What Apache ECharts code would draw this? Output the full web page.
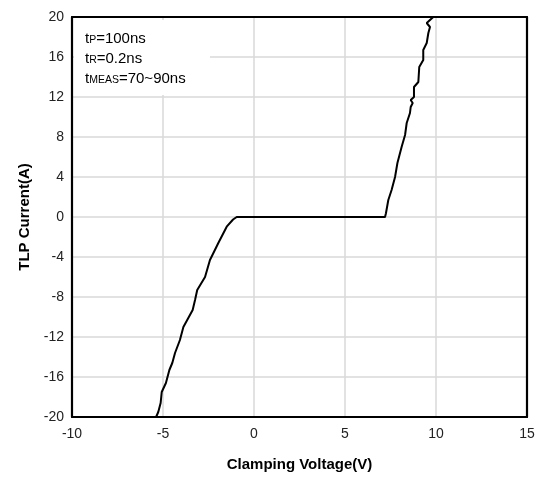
<!DOCTYPE html>
<html><head><meta charset="utf-8">
<script src="https://cdn.jsdelivr.net/npm/echarts@6/dist/echarts.min.js"></script>
<style>html,body{margin:0;padding:0;background:#fff}#c{width:544px;height:477px}</style>
</head><body><div id="c"></div>
<script>
const voltage = [-5.38,-5.26,-5.13,-5.07,-4.84,-4.65,-4.49,-4.34,-4.07,-3.88,-3.61,-3.37,-3.24,-3.12,-2.69,-2.42,-1.96,-1.50,-1.15,-0.95,-1.05,
  7.20,7.25,7.38,7.56,7.75,7.88,8.11,8.30,8.39,8.57,8.61,8.72,8.61,8.79,8.79,9.03,9.08,9.30,9.30,9.49,9.58,9.67,9.49,9.85];
const current = [-20,-19.5,-18.6,-17.5,-16.6,-15.3,-14.6,-13.6,-12.3,-11.0,-10.1,-9.3,-8.3,-7.3,-6.0,-4.3,-2.6,-0.97,-0.25,0,0,
  0,0.37,1.7,2.7,4.0,5.4,7.0,8.2,9.4,10.4,11.0,11.4,11.7,12.0,13.0,13.5,15.0,15.7,16.7,17.4,18.4,19.0,19.4,20];
const xTicks = [-10,-5,0,5,10,15];
const yTicks = [-20,-16,-12,-8,-4,0,4,8,12,16,20];
const noteLines = [["t","P","=100ns"],["t","R","=0.2ns"],["t","MEAS","=70~90ns"]];

const pts = voltage.map((v,i)=>[v,current[i]]);
const chart = echarts.init(document.getElementById('c'));
const ff = '"Liberation Sans", Arial, sans-serif';
const frame = {show:true,onZero:false,lineStyle:{color:'#000',width:2.2}};
const xMin = xTicks[0], xMax = xTicks[xTicks.length-1], yMin = yTicks[0], yMax = yTicks[yTicks.length-1];
chart.setOption({
  animation:false,
  grid:{left:72,right:17,top:17,bottom:60},
  xAxis:[{type:'value',min:xMin,max:xMax,interval:5,position:'bottom',
    name:'Clamping Voltage(V)',nameLocation:'middle',nameGap:40,
    nameTextStyle:{fontFamily:ff,fontWeight:'bold',fontSize:15,color:'#000'},
    axisLine:frame,axisTick:{show:false},
    axisLabel:{fontFamily:ff,fontSize:14,color:'#222',margin:10},
    splitLine:{show:true,lineStyle:{color:'#d9d9d9',width:1.5}}},
    {type:'value',min:xMin,max:xMax,interval:5,position:'top',axisLine:frame,axisTick:{show:false},axisLabel:{show:false},splitLine:{show:false}}],
  yAxis:[{type:'value',min:yMin,max:yMax,interval:4,position:'left',
    name:'TLP Current(A)',nameLocation:'middle',nameGap:40,
    nameTextStyle:{fontFamily:ff,fontWeight:'bold',fontSize:15,color:'#000'},
    axisLine:frame,axisTick:{show:false},
    axisLabel:{fontFamily:ff,fontSize:14,color:'#222',margin:8},
    splitLine:{show:true,lineStyle:{color:'#d9d9d9',width:1.5}}},
    {type:'value',min:yMin,max:yMax,interval:4,position:'right',axisLine:frame,axisTick:{show:false},axisLabel:{show:false},splitLine:{show:false}}],
  graphic:[
    {type:'rect',left:74,top:20,shape:{width:136,height:75},style:{fill:'#fff'},z:1},
    {type:'text',left:85,top:31,z:2,style:{
      text:noteLines.map(l=>'{n|'+l[0]+'}{s|'+l[1]+'}{n|'+l[2]+'}').join('\n'),
      rich:{n:{fontFamily:ff,fontSize:15,color:'#000',lineHeight:20},s:{fontFamily:ff,fontSize:10.5,color:'#000',lineHeight:14,verticalAlign:'bottom',padding:[0,0,3,0]}}
    }}
  ],
  series:[{type:'line',data:pts,showSymbol:false,z:5,lineStyle:{color:'#000',width:2}}]
});
</script></body></html>
